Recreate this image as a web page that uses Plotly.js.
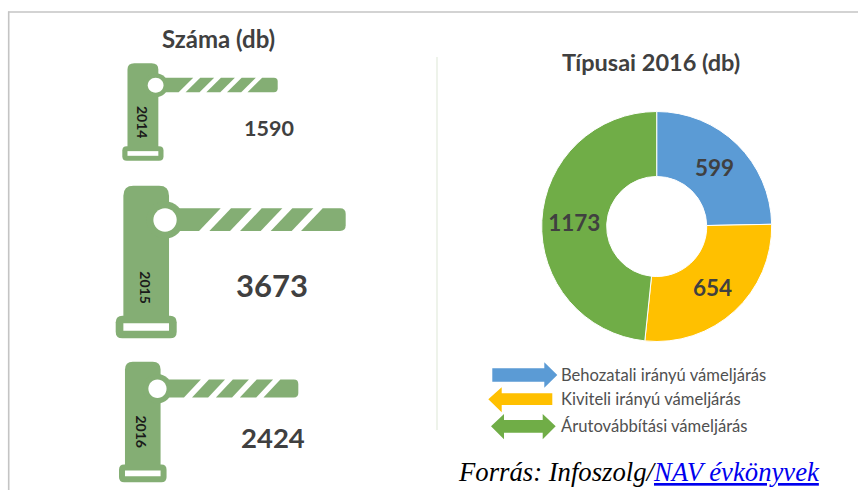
<!DOCTYPE html>
<html>
<head>
<meta charset="utf-8">
<script src="https://cdn.plot.ly/plotly-3.0.1.min.js"></script>
<style>html,body{margin:0;padding:0;background:#fff;overflow:hidden}#chart{width:858px;height:490px}</style>
</head>
<body>
<div id="chart"></div>
<script>
// Data
const years = ['2014', '2015', '2016'];
const yearCounts = [1590, 3673, 2424];
const typeNames = ['Behozatali irányú vámeljárás', 'Kiviteli irányú vámeljárás', 'Árutovábbítási vámeljárás'];
const typeCounts = [599, 654, 1173];
const typeColors = ['#5B9BD5', '#FFC000', '#70AD47'];
const titleLeft = 'Száma (db)';
const titleRight = 'Típusai 2016 (db)';

// Layout helpers (page pixels to paper coordinates; margins are zero)
const W = 858, H = 490;
const px = x => x / W, py = y => 1 - y / H;
const GREEN = '#84AE74', TEXT = '#404040', FONT = 'Lato, Carlito, sans-serif';

// Gate pictogram bounding boxes, in page pixels
const gateBoxes = [
  {x0: 122.3, x1: 277.7, y0: 63.3, y1: 160.7},
  {x0: 115.7, x1: 345.7, y0: 185.7, y1: 338.3},
  {x0: 119, x1: 298.3, y0: 361.7, y1: 482.3}
];
const yearLabelPos = [[143, 122, 14], [146, 287.3, 14], [141.5, 431, 14]];
const countLabelPos = [[268.7, 128, 21.5], [272.3, 285, 31], [272.8, 437.3, 27.5]];

const shapes = [];
function addPath(d, color) {
  shapes.push({type: 'path', xref: 'paper', yref: 'paper', path: d, fillcolor: color, line: {width: 0}});
}
function gate(box) {
  // Artwork grid of the pictogram: 47..737 wide, 32..490 tall
  const mx = u => px(box.x0 + (u - 47) / 690 * (box.x1 - box.x0));
  const my = v => py(box.y0 + (v - 32) / 458 * (box.y1 - box.y0));
  const P = (u, v) => mx(u) + ',' + my(v);
  const poly = pts => 'M' + pts.map(p => P(p[0], p[1])).join('L') + 'Z';
  const circle = (cx, cy, r) => {
    const k = 0.5523 * r;
    return 'M' + P(cx + r, cy) +
      'C' + P(cx + r, cy + k) + ' ' + P(cx + k, cy + r) + ' ' + P(cx, cy + r) +
      'C' + P(cx - k, cy + r) + ' ' + P(cx - r, cy + k) + ' ' + P(cx - r, cy) +
      'C' + P(cx - r, cy - k) + ' ' + P(cx - k, cy - r) + ' ' + P(cx, cy - r) +
      'C' + P(cx + k, cy - r) + ' ' + P(cx + r, cy - k) + ' ' + P(cx + r, cy) + 'Z';
  };
  // post
  addPath('M' + P(70, 430) + 'L' + P(70, 62) + 'Q' + P(70, 32) + ' ' + P(100, 32) + 'L' + P(177, 32) +
    'Q' + P(207, 32) + ' ' + P(207, 62) + 'L' + P(207, 430) + 'Z', GREEN);
  // base plate
  addPath('M' + P(47, 442) + 'Q' + P(47, 422) + ' ' + P(67, 422) + 'L' + P(210, 422) + 'Q' + P(230, 422) + ' ' + P(230, 442) +
    'L' + P(230, 470) + 'Q' + P(230, 490) + ' ' + P(210, 490) + 'L' + P(67, 490) + 'Q' + P(47, 490) + ' ' + P(47, 470) + 'Z', GREEN);
  addPath(poly([[70, 445], [207, 445], [207, 467], [70, 467]]), '#FFFFFF');
  // hinge and striped arm
  addPath(circle(195, 135, 56), GREEN);
  addPath(poly([[195, 100], [362, 100], [297, 168], [195, 168]]), GREEN);
  [[328, 393, 455, 390], [420, 485, 547, 482], [512, 577, 640, 575]].forEach(s =>
    addPath(poly([[s[0], 168], [s[1], 100], [s[2], 100], [s[3], 168]]), GREEN));
  addPath('M' + P(603, 168) + 'L' + P(668, 100) + 'L' + P(720, 100) + 'Q' + P(737, 100) + ' ' + P(737, 117) +
    'L' + P(737, 151) + 'Q' + P(737, 168) + ' ' + P(720, 168) + 'Z', GREEN);
  addPath(circle(195, 135, 35), '#FFFFFF');
}
gateBoxes.forEach(gate);

// Frame and divider
function line(x0, y0, x1, y1, color, width) {
  shapes.push({type: 'line', xref: 'paper', yref: 'paper', x0: px(x0), y0: py(y0), x1: px(x1), y1: py(y1), line: {color: color, width: width}});
}
line(8.7, 11.5, 8.7, 490, '#C4C4C4', 1.6);
line(8, 12, 858, 12, '#C4C4C4', 1.6);
line(437, 57, 437, 430, '#E3EBDD', 1.2);

// Legend arrows
function arrowPath(pts) {
  return 'M' + pts.map(p => px(p[0]) + ',' + py(p[1])).join('L') + 'Z';
}
addPath(arrowPath([[492.3, 368.3], [544.3, 368.3], [544.3, 362.3], [557.3, 375], [544.3, 387.7], [544.3, 381.7], [492.3, 381.7]]), typeColors[0]);
addPath(arrowPath([[552.3, 393.3], [501.7, 393.3], [501.7, 387.3], [488.3, 399.3], [501.7, 412.3], [501.7, 405], [552.3, 405]]), typeColors[1]);
addPath(arrowPath([[491, 426.3], [504, 414], [504, 420], [542.7, 420], [542.7, 414], [555.7, 426.3], [542.7, 439.3], [542.7, 432.7], [504, 432.7], [504, 439.3]]), typeColors[2]);

// Text
function note(text, x, y, size, opts) {
  return Object.assign({
    text: text, xref: 'paper', yref: 'paper', x: px(x), y: py(y), showarrow: false,
    xanchor: 'center', yanchor: 'middle', font: {family: FONT, size: size, color: TEXT}
  }, opts || {});
}
const annotations = [
  note('<b>' + titleLeft + '</b>', 218.7, 38, 24),
  note('<b>' + titleRight + '</b>', 650.5, 62.5, 23.5)
];
years.forEach((y, i) => {
  annotations.push(note('<b>' + y + '</b>', yearLabelPos[i][0], yearLabelPos[i][1], yearLabelPos[i][2],
    {textangle: 90, font: {family: FONT, size: yearLabelPos[i][2], color: '#1a1a1a'}}));
  annotations.push(note('<b>' + yearCounts[i] + '</b>', countLabelPos[i][0], countLabelPos[i][1], countLabelPos[i][2]));
});
const legendY = [375, 398.7, 425.7];
typeNames.forEach((t, i) => {
  annotations.push(note(t, 559, legendY[i], 16.6, {xanchor: 'left', font: {family: FONT, size: 16.6, color: '#505050'}}));
});
annotations.push(note('<i>Forrás: Infoszolg/<span style="color:#0000EE"><u>NAV évkönyvek</u></span></i>', 455.5, 472, 26.7,
  {xanchor: 'left', font: {family: '"Liberation Serif", serif', size: 26.7, color: '#000'}}));

const donut = {
  type: 'pie',
  labels: typeNames,
  values: typeCounts,
  sort: false,
  direction: 'clockwise',
  rotation: 0,
  hole: 0.435,
  domain: {x: [px(541.7), px(771.7)], y: [py(341.5), py(111.5)]},
  marker: {colors: typeColors, line: {color: '#FFFFFF', width: 1}},
  textinfo: 'value',
  texttemplate: '<b>%{value}</b>',
  textposition: 'inside',
  insidetextorientation: 'horizontal',
  textfont: {family: FONT, size: 22.5, color: TEXT},
  showlegend: false
};

Plotly.newPlot('chart', [donut], {
  width: W, height: H,
  margin: {l: 0, r: 0, t: 0, b: 0},
  paper_bgcolor: '#FFFFFF',
  showlegend: false,
  shapes: shapes,
  annotations: annotations
}, {displayModeBar: false, staticPlot: true});
</script>
</body>
</html>
